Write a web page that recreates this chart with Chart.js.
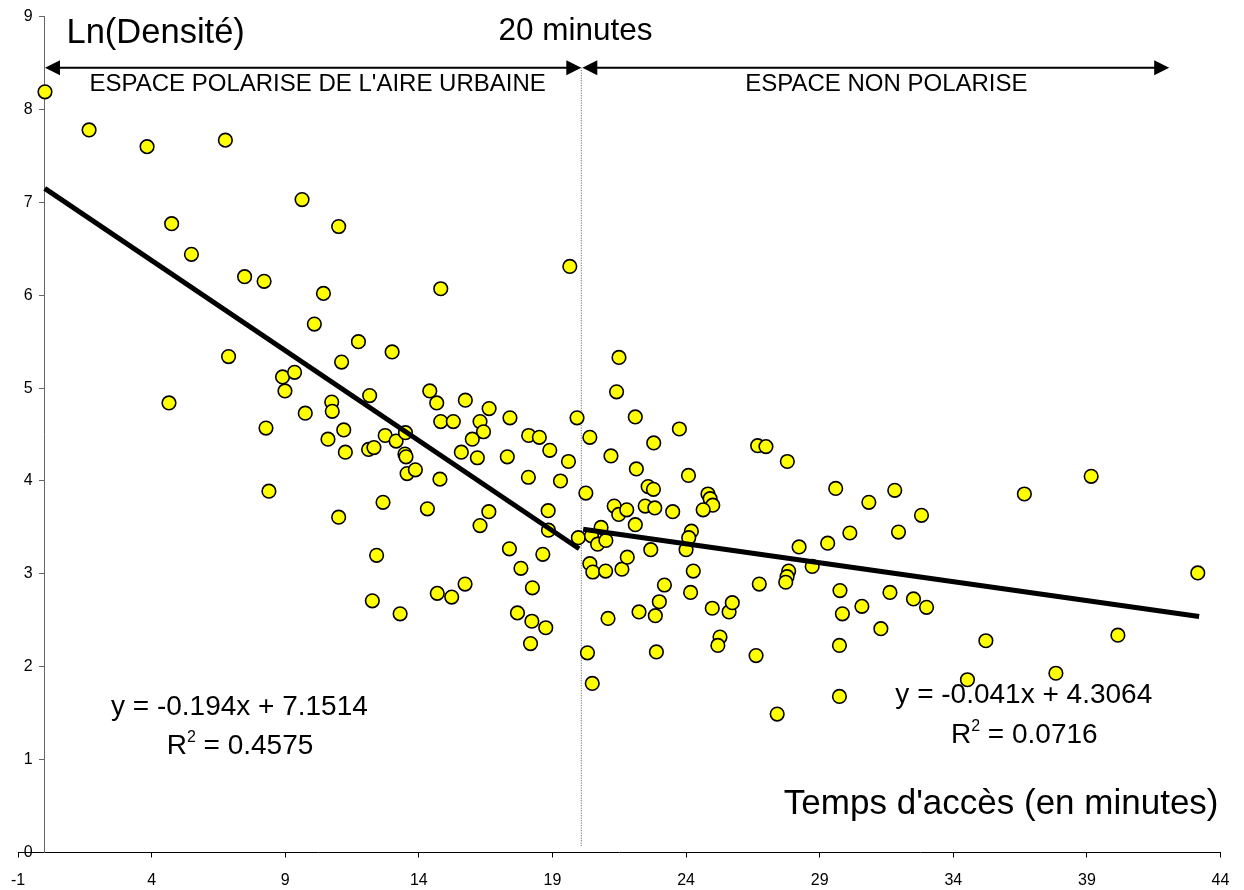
<!DOCTYPE html>
<html><head><meta charset="utf-8">
<script src="https://cdn.jsdelivr.net/npm/chart.js@4/dist/chart.umd.min.js"></script>
<style>html,body{margin:0;padding:0;background:#fff}#wrap{width:1244px;height:890px}</style>
</head><body><div id="wrap"><canvas id="c" width="1244" height="890"></canvas></div>
<script>
// Temps d'accès (minutes)
const accessTime = [
 0.01,1.66,3.83,6.76,9.63,11.0,4.75,5.49,7.48,8.21,10.43,10.09,6.88,11.74,13.0,11.11,8.90,9.35,8.99,4.65,
 10.74,10.76,9.75,12.16,8.28,11.19,10.60,11.25,12.12,12.32,12.74,13.15,13.50,13.48,13.52,13.56,13.87,8.39,12.66,11.0,
 12.42,12.26,13.30,14.82,14.41,14.67,15.74,16.63,14.82,15.29,16.29,16.42,16.0,17.41,19.92,15.59,16.19,17.31,18.11,18.51,
 18.90,19.60,14.79,18.10,19.30,14.32,16.62,18.84,16.29,18.85,19.97,17.39,18.64,17.82,15.73,14.69,15.23,18.25,17.69,18.23,
 18.75,18.18,19.65,
 21.49,21.40,22.10,20.40,21.19,22.79,23.75,26.68,26.99,27.79,22.14,24.09,20.25,22.58,22.78,24.82,24.90,25.0,24.64,21.31,
 21.48,21.78,22.47,22.83,23.50,22.10,20.46,20.82,20.69,21.0,24.20,24.10,24.0,22.68,28.23,28.72,27.84,27.78,27.73,20.40,
 20.51,20.99,21.60,21.80,24.27,26.74,20.31,20.49,21.08,22.24,22.85,23.0,23.19,22.89,24.17,24.98,25.61,25.73,25.27,25.19,
 26.62,27.41,29.76,29.85,30.58,31.63,32.51,33.0,31.29,29.74,29.74,35.22,34.53,37.84,40.16,43.15,29.60,30.84,31.81,32.81,
 30.13,31.95,29.30,36.66,39.16
];
// Ln(Densité)
const lnDensity = [
 8.19,7.78,7.60,7.67,7.03,6.74,6.77,6.44,6.20,6.15,6.02,5.69,5.34,5.50,5.39,5.28,5.12,5.17,4.97,4.84,
 4.85,4.75,4.73,4.92,4.57,4.55,4.45,4.31,4.34,4.36,4.49,4.43,4.52,4.29,4.26,4.08,4.12,3.89,3.77,3.61,
 3.20,2.71,2.57,6.07,4.97,4.84,4.87,4.78,4.64,4.64,4.64,4.53,4.45,4.68,4.68,4.31,4.25,4.26,4.49,4.47,
 4.33,4.21,4.02,4.04,4.00,3.70,3.67,3.68,3.52,3.47,3.39,3.27,3.21,3.06,2.89,2.79,2.75,2.85,2.58,2.49,
 2.42,2.25,6.31,
 5.33,4.96,4.69,4.47,4.27,4.41,4.56,4.38,4.37,4.21,4.13,4.06,3.87,3.94,3.91,3.86,3.81,3.74,3.69,3.73,
 3.64,3.69,3.73,3.71,3.67,3.53,3.41,3.50,3.32,3.36,3.46,3.39,3.26,3.26,3.29,3.08,3.03,2.97,2.91,3.11,
 3.02,3.03,3.05,3.18,3.03,2.89,2.15,1.82,2.52,2.59,2.55,2.70,2.88,2.16,2.80,2.63,2.59,2.69,2.32,2.23,
 2.12,1.49,2.82,2.57,2.65,2.80,2.73,2.64,2.41,2.23,1.68,2.28,1.86,1.93,2.34,3.01,3.92,3.77,3.90,3.63,
 3.44,3.45,3.33,3.86,4.05
];
const xTickValues = [-1, 4, 9, 14, 19, 24, 29, 34, 39, 44];
const yTickValues = [0, 1, 2, 3, 4, 5, 6, 7, 8, 9];
// trend lines (endpoints)
const trendLeftX = [0, 20];
const trendLeftY = [7.15, 3.27];
const trendRightX = [20.15, 43.2];
const trendRightY = [3.48, 2.54];
const eqLeft = ['y = -0.194x + 7.1514', '0.4575'];
const eqRight = ['y = -0.041x + 4.3064', '0.0716'];
const labels = {
  yTitle: 'Ln(Densité)', xTitle: "Temps d'accès (en minutes)", split: '20 minutes',
  zoneLeft: "ESPACE POLARISE DE L'AIRE URBAINE", zoneRight: 'ESPACE NON POLARISE'
};

const FONT = "Arial, 'Liberation Sans', sans-serif";
const toPts = (xs, ys) => xs.map((x, i) => ({x, y: ys[i]}));

function arrowHead(ctx, tipX, y, dir) {
  ctx.beginPath();
  ctx.moveTo(tipX, y);
  ctx.lineTo(tipX - dir * 15, y - 7.5);
  ctx.lineTo(tipX - dir * 15, y + 7.5);
  ctx.closePath();
  ctx.fill();
}
function drawR2(ctx, cx, baseline, value, size) {
  ctx.font = size + 'px ' + FONT;
  const wR = ctx.measureText('R').width;
  const rest = ' = ' + value;
  const wRest = ctx.measureText(rest).width;
  ctx.font = '16px ' + FONT;
  const w2 = ctx.measureText('2').width;
  const total = wR + w2 + wRest;
  let x = cx - total / 2;
  ctx.textAlign = 'left';
  ctx.font = size + 'px ' + FONT;
  ctx.fillText('R', x, baseline); x += wR;
  ctx.font = '16px ' + FONT;
  ctx.fillText('2', x, baseline - 12.5); x += w2;
  ctx.font = size + 'px ' + FONT;
  ctx.fillText(rest, x, baseline);
}

const annot = {
  id: 'annot',
  beforeDraw(chart) {
    // y axis crosses at x = 0: move its labels to the left of the tick marks
    const ys = chart.scales.y;
    const tickAndPad = ys.options.grid.tickLength + ys.options.ticks.padding;
    ys.getLabelItems().forEach(it => {
      if (!it._moved) { it.options.translation[0] -= tickAndPad; it._moved = true; }
    });
  },
  beforeDatasetsDraw(chart) {
    const {ctx, scales: {x, y}} = chart;
    const sx = x.getPixelForValue(20.08);
    ctx.save();
    ctx.strokeStyle = '#555';
    ctx.lineWidth = 1;
    ctx.setLineDash([1, 1.5]);
    ctx.beginPath();
    ctx.moveTo(sx, y.getPixelForValue(8.45));
    ctx.lineTo(sx, y.getPixelForValue(0.07));
    ctx.stroke();
    ctx.restore();
  },
  afterDraw(chart) {
    const {ctx, scales: {x, y}} = chart;
    ctx.save();
    ctx.fillStyle = '#000';
    ctx.strokeStyle = '#000';
    // arrows
    const ay = y.getPixelForValue(8.45);
    const x0 = x.getPixelForValue(0.01), xm = x.getPixelForValue(20.08), x1 = x.getPixelForValue(42.08);
    ctx.lineWidth = 2;
    ctx.beginPath();
    ctx.moveTo(x0 + 10, ay); ctx.lineTo(xm - 10, ay);
    ctx.moveTo(xm + 10, ay); ctx.lineTo(x1 - 10, ay);
    ctx.stroke();
    arrowHead(ctx, x0, ay, -1);
    arrowHead(ctx, xm, ay, 1);
    arrowHead(ctx, xm + 1, ay, -1);
    arrowHead(ctx, x1, ay, 1);
    // texts
    ctx.textBaseline = 'alphabetic';
    ctx.textAlign = 'left';
    ctx.font = '34.5px ' + FONT;
    ctx.fillText(labels.yTitle, 66.5, 42.7);
    ctx.font = '31.5px ' + FONT;
    ctx.textAlign = 'center';
    ctx.fillText(labels.split, 575.5, 39.5);
    ctx.font = '24px ' + FONT;
    ctx.textAlign = 'left';
    ctx.fillText(labels.zoneLeft, 89.5, 90.7);
    ctx.textAlign = 'right';
    ctx.fillText(labels.zoneRight, 1027.5, 90.7);
    ctx.font = '35px ' + FONT;
    ctx.textAlign = 'right';
    ctx.fillText(labels.xTitle, 1218.5, 814);
    ctx.font = '28px ' + FONT;
    ctx.textAlign = 'center';
    ctx.fillText(eqLeft[0], 239.4, 715);
    drawR2(ctx, 240, 754.3, eqLeft[1], 28);
    ctx.textAlign = 'center';
    ctx.font = '28px ' + FONT;
    ctx.fillText(eqRight[0], 1023.8, 703.3);
    drawR2(ctx, 1024.3, 743.3, eqRight[1], 28);
    ctx.restore();
  }
};

new Chart(document.getElementById('c'), {
  type: 'scatter',
  data: {
    datasets: [
      {label: 'trend1', type: 'line', data: toPts(trendLeftX, trendLeftY), borderColor: '#000', borderWidth: 5,
       pointRadius: 0, borderCapStyle: 'butt', fill: false, order: 0, tension: 0},
      {label: 'trend2', type: 'line', data: toPts(trendRightX, trendRightY), borderColor: '#000', borderWidth: 5,
       pointRadius: 0, borderCapStyle: 'butt', fill: false, order: 0, tension: 0},
      {label: 'communes', data: toPts(accessTime, lnDensity), pointRadius: 6.8, pointBackgroundColor: '#FFFF00',
       pointBorderColor: '#000', pointBorderWidth: 1.6, order: 1}
    ]
  },
  options: {
    responsive: false, animation: false, devicePixelRatio: 1,
    layout: {padding: {left: 18, right: 23.5, top: 15, bottom: 0}},
    plugins: {legend: {display: false}, tooltip: {enabled: false}},
    scales: {
      x: {
        type: 'linear', min: -1, max: 44, position: 'bottom',
        afterBuildTicks: (ax) => { ax.ticks = xTickValues.map(v => ({value: v})); },
        afterFit: (ax) => { ax.height = 37.5; ax.paddingLeft = 0; ax.paddingRight = 0; },
        ticks: {font: {size: 16, family: FONT}, color: '#000', padding: 13.5, maxRotation: 0, autoSkip: false},
        grid: {drawOnChartArea: false, drawTicks: true, tickLength: 5, color: '#000'},
        border: {display: true, color: '#000', width: 1}
      },
      y: {
        type: 'linear', min: 0, max: 9, position: {x: 0},
        afterBuildTicks: (ax) => { ax.ticks = yTickValues.map(v => ({value: v})); },
        ticks: {font: {size: 16, family: FONT}, color: '#000', padding: 7, autoSkip: false},
        grid: {drawOnChartArea: false, drawTicks: true, tickLength: 5, color: '#666'},
        border: {display: true, color: '#666', width: 1}
      }
    }
  },
  plugins: [annot]
});
</script></body></html>
